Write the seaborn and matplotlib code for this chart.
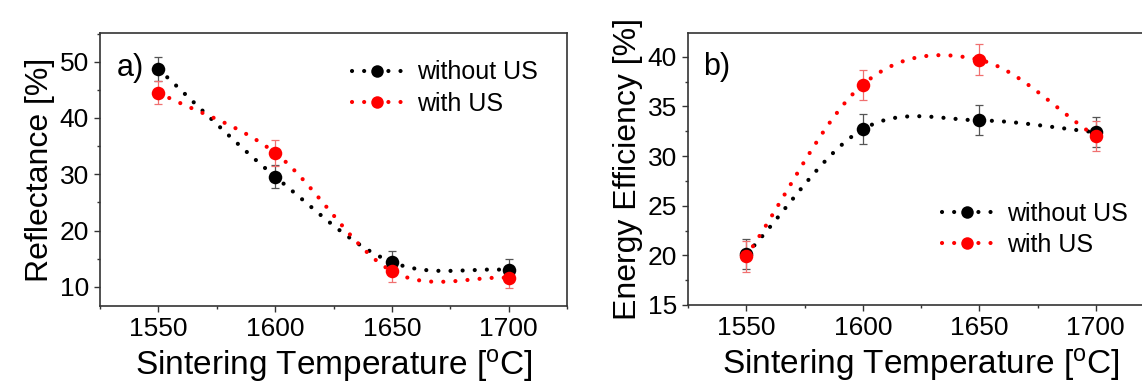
import matplotlib
matplotlib.use('Agg')
import matplotlib.pyplot as plt
import matplotlib.ticker as mticker
from matplotlib.lines import Line2D
import numpy as np
import pandas as pd
import seaborn as sns

# --- data ---
temps = [1550, 1600, 1650, 1700]

refl_without = [48.7, 29.6, 14.4, 13.0]
refl_without_err = [2.1, 2.0, 2.0, 1.9]
refl_with = [44.5, 33.8, 12.8, 11.6]
refl_with_err = [2.1, 2.3, 1.9, 1.8]

eff_without = [20.1, 32.7, 33.6, 32.4]
eff_without_err = [1.5, 1.5, 1.5, 1.5]
eff_with = [19.9, 37.2, 39.7, 32.0]
eff_with_err = [1.55, 1.5, 1.55, 1.5]

series_names = ['without US', 'with US']
line_colors = ['black', '#ff0000']
err_colors = ['#555555', '#f07070']

sns.set_theme(style='ticks')
plt.rcParams['font.family'] = ['Liberation Sans', 'DejaVu Sans']
plt.rcParams['mathtext.fontset'] = 'custom'
plt.rcParams['mathtext.rm'] = 'Liberation Sans'
plt.rcParams['text.color'] = 'black'
plt.rcParams['axes.labelcolor'] = 'black'
plt.rcParams['xtick.labelcolor'] = 'black'
plt.rcParams['ytick.labelcolor'] = 'black'

DOT = (0, (0.01, 2.9))


def smooth_connect(x, y, n=60):
    """Catmull-Rom style connecting curve (like Origin's bezier connect)."""
    x = np.asarray(x, float)
    y = np.asarray(y, float)
    m = np.empty_like(y)
    m[1:-1] = (y[2:] - y[:-2]) / (x[2:] - x[:-2])
    m[0] = (y[1] - y[0]) / (x[1] - x[0])
    m[-1] = (y[-1] - y[-2]) / (x[-1] - x[-2])
    xs, ys = [], []
    for i in range(len(x) - 1):
        h = x[i + 1] - x[i]
        t = np.linspace(0, 1, n)
        h00 = 2 * t**3 - 3 * t**2 + 1
        h10 = t**3 - 2 * t**2 + t
        h01 = -2 * t**3 + 3 * t**2
        h11 = t**3 - t**2
        xs.append(x[i] + t * h)
        ys.append(h00 * y[i] + h10 * h * m[i] + h01 * y[i + 1] + h11 * h * m[i + 1])
    return np.concatenate(xs), np.concatenate(ys)


def draw_panel(ax, series, errs, ylim, ymajor, ylabel, tag, legend_anchor):
    for vals, err, name, lc, ec in zip(series, errs, series_names, line_colors, err_colors):
        sx, sy = smooth_connect(temps, vals)
        curve = pd.DataFrame({'T': sx, 'v': sy})
        sns.lineplot(data=curve, x='T', y='v', ax=ax, color=lc, lw=3.0,
                     linestyle=DOT, dash_capstyle='round', sort=False, zorder=2)
        ax.errorbar(temps, vals, yerr=err, fmt='none', ecolor=ec, elinewidth=0.9,
                    capsize=2.6, capthick=0.9, zorder=3)
        pts = pd.DataFrame({'T': temps, 'v': vals})
        sns.scatterplot(data=pts, x='T', y='v', ax=ax, color=lc, s=95,
                        edgecolor=lc, linewidth=0, zorder=4)

    ax.set_xlim(1525, 1725)
    ax.set_ylim(*ylim)
    ax.xaxis.set_major_locator(mticker.MultipleLocator(50))
    ax.xaxis.set_minor_locator(mticker.MultipleLocator(25))
    ax.yaxis.set_major_locator(mticker.MultipleLocator(ymajor))
    ax.yaxis.set_minor_locator(mticker.MultipleLocator(ymajor / 2))
    ax.tick_params(which='major', direction='out', length=4.5, width=1.0,
                   color='#333333', labelsize=19, pad=3.5)
    ax.tick_params(which='minor', direction='out', length=2.5, width=1.0, color='#333333')
    for sp in ax.spines.values():
        sp.set_color('#333333')
        sp.set_linewidth(1.2)
    ax.set_xlabel(r'Sintering Temperature [$\mathregular{^o}$C]', fontsize=24, labelpad=4)
    ax.set_ylabel(ylabel, fontsize=23, labelpad=3)
    ax.text(tag[1], tag[2], tag[0], transform=ax.transAxes, fontsize=22, va='baseline')

    handles = [Line2D([0], [0], color=lc, lw=3.0, linestyle=DOT, dash_capstyle='round',
                      marker='o', markersize=9, markeredgewidth=0)
               for lc in line_colors]
    ax.legend(handles, series_names, loc='upper left', bbox_to_anchor=legend_anchor,
              frameon=False, fontsize=18, handlelength=2.0, handletextpad=0.6,
              labelspacing=0.3, borderpad=0, borderaxespad=0)


fig = plt.figure(figsize=(11.42, 3.83), dpi=100)
ax_a = fig.add_axes([100 / 1142, 77 / 383, 467 / 1142, 273 / 383])
ax_b = fig.add_axes([688 / 1142, 78 / 383, 466 / 1142, 272 / 383])

draw_panel(ax_a, [refl_without, refl_with], [refl_without_err, refl_with_err],
           (6.6, 55.1), 10, 'Reflectance [%]', ('a)', 0.036, 0.842), (0.54, 0.90))
draw_panel(ax_b, [eff_without, eff_with], [eff_without_err, eff_with_err],
           (15, 42.4), 5, 'Energy Efficiency [%]', ('b)', 0.032, 0.846), (0.545, 0.38))

fig.savefig('out.png', dpi=100)
